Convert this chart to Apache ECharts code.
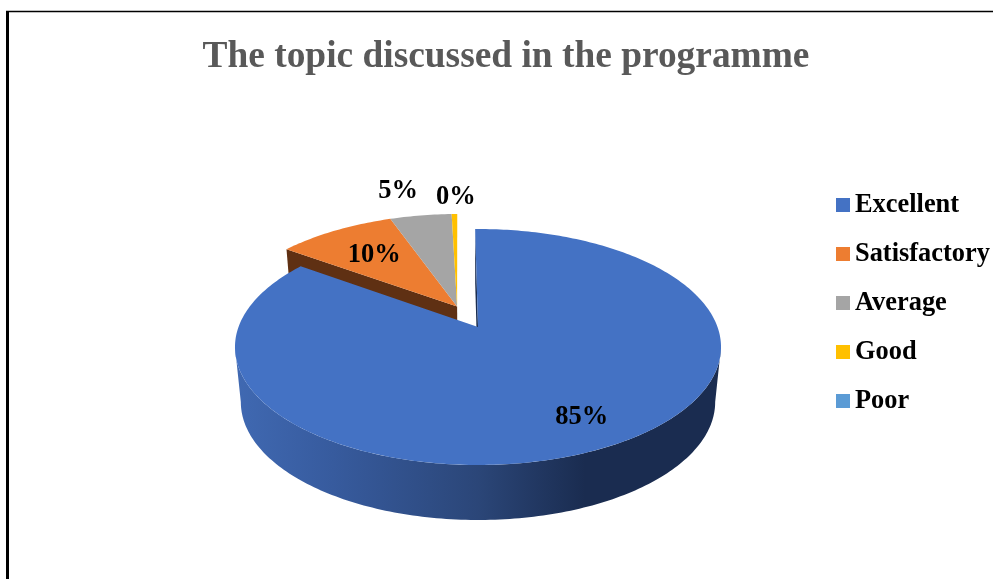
<!DOCTYPE html>
<html><head><meta charset="utf-8">
<style>html,body{margin:0;padding:0;background:#fff}#c{width:993px;height:579px}</style>
<script src="https://cdn.jsdelivr.net/npm/echarts@6/dist/echarts.min.js"></script>
</head><body><div id="c"></div>
<script>
const categories = ['Excellent','Satisfactory','Average','Good','Poor'];
const values = [85.1, 9.5, 4.95, 0.45, 0];
const colors = ['#4472C4','#ED7D31','#A5A5A5','#FFC000','#5B9BD5'];
const cutWallColors = ['#1a2d50','#5f3013',null,null,null];

// Projection of the tilted disc (perspective), styling only
const P = {cx:478, cy:327, R:239.5, H:114.6, k:0.1695, depth:55, shrink:0.976, startDeg:-0.8};
const explode = {du:-0.09,dv:0.185};
const exploded = [null,explode,explode,explode,explode];
const labelStyle = [
  {r:0.785,dx:5,dy:0},{r:0.65,dx:0,dy:0},{r:1.35,dx:-12,dy:2},{r:1.25,dx:2,dy:2},null
];
const total = values.reduce((a,b)=>a+b,0);

function project(u,v,lower){
  const w = 1+P.k*v;
  const s = lower?P.shrink:1;
  return [P.cx+P.R*s*u/w, P.cy+(lower?P.depth:0)-P.H*v/w];
}
function pt(deg,r,off,lower){
  const a = deg*Math.PI/180;
  return project(r*Math.sin(a)+(off?off.du:0), r*Math.cos(a)+(off?off.dv:0), lower);
}
function sliceAngles(i){
  let s = P.startDeg;
  for(let j=0;j<i;j++) s += values[j]/total*360;
  return [s, s+values[i]/total*360];
}
function arc(a0,a1,off,lower){
  const n = Math.max(2,Math.ceil(Math.abs(a1-a0)));
  const out=[];
  for(let j=0;j<=n;j++) out.push(pt(a0+(a1-a0)*j/n,1,off,lower));
  return out;
}
function renderSlice(i){
  return function(params,api){
    const val = api.value(0);
    if(!(val>0)) return {type:'group',children:[]};
    const [a0,a1] = sliceAngles(i);
    const off = exploded[i];
    const kids = [];
    // outer wall: only the front part between the two silhouette tangents
    if(i===0){
      const tangent = Math.acos(-P.k)*180/Math.PI;
      const from = Math.max(a0,tangent), to = Math.min(a1,360-tangent);
      const upper = arc(from,to,off,false), lowerArc = arc(from,to,off,true).reverse();
      kids.push({type:'polygon',z2:2,shape:{points:upper.concat(lowerArc)},style:{
        fill:new echarts.graphic.LinearGradient(0,0,1,0,[
          {offset:0,color:'#4069b2'},{offset:0.2,color:'#375b9e'},{offset:0.5,color:'#2b4678'},
          {offset:0.72,color:'#1a2c50'},{offset:1,color:'#1a2c50'}])}});
    }
    // visible cut wall
    if(cutWallColors[i]){
      const wall = [pt(a0,0,off,false),pt(a0,1,off,false),pt(a0,1,off,true),pt(a0,0,off,true)];
      kids.push({type:'polygon',z2:1,shape:{points:wall},style:{fill:cutWallColors[i]}});
    }
    // top face
    kids.push({type:'polygon',z2:5,shape:{points:[pt(a0,0,off,false)].concat(arc(a0,a1,off,false))},
      style:{fill:colors[i]}});
    // percentage label
    const ls = labelStyle[i];
    if(ls){
      const p = pt((a0+a1)/2,ls.r,off,false);
      kids.push({type:'text',z2:10,style:{text:Math.round(val/total*100)+'%',x:p[0]+ls.dx,y:p[1]+ls.dy,
        fill:'#000',font:'bold 26.5px "Liberation Serif"',align:'center',verticalAlign:'middle'}});
    }
    return {type:'group',children:kids};
  };
}

const chart = echarts.init(document.getElementById('c'),null,{renderer:'canvas'});
chart.setOption({
  animation:false,
  backgroundColor:'#fff',
  title:{text:'The topic discussed in the programme',left:501,top:34,textAlign:'center',
    textStyle:{color:'#595959',fontFamily:'Liberation Serif',fontWeight:'bold',fontSize:37.4}},
  legend:{orient:'vertical',left:831,top:187,itemWidth:14,itemHeight:14,itemGap:23,icon:'rect',
    selectedMode:false,
    data:categories.map((n,i)=>({name:n,itemStyle:{color:colors[i]}})),
    textStyle:{color:'#000',fontFamily:'Liberation Serif',fontWeight:'bold',fontSize:26.4,lineHeight:26}},
  graphic:[
    {type:'line',shape:{x1:7.5,y1:11,x2:7.5,y2:579},style:{stroke:'#000',lineWidth:3}},
    {type:'line',shape:{x1:6,y1:11.5,x2:993,y2:11.5},style:{stroke:'#000',lineWidth:1.5}}
  ],
  series:categories.map((n,i)=>({
    type:'custom',name:n,coordinateSystem:'none',silent:true,
    itemStyle:{color:colors[i]},
    data:[[values[i]]],
    renderItem:renderSlice(i)
  }))
});
</script></body></html>
